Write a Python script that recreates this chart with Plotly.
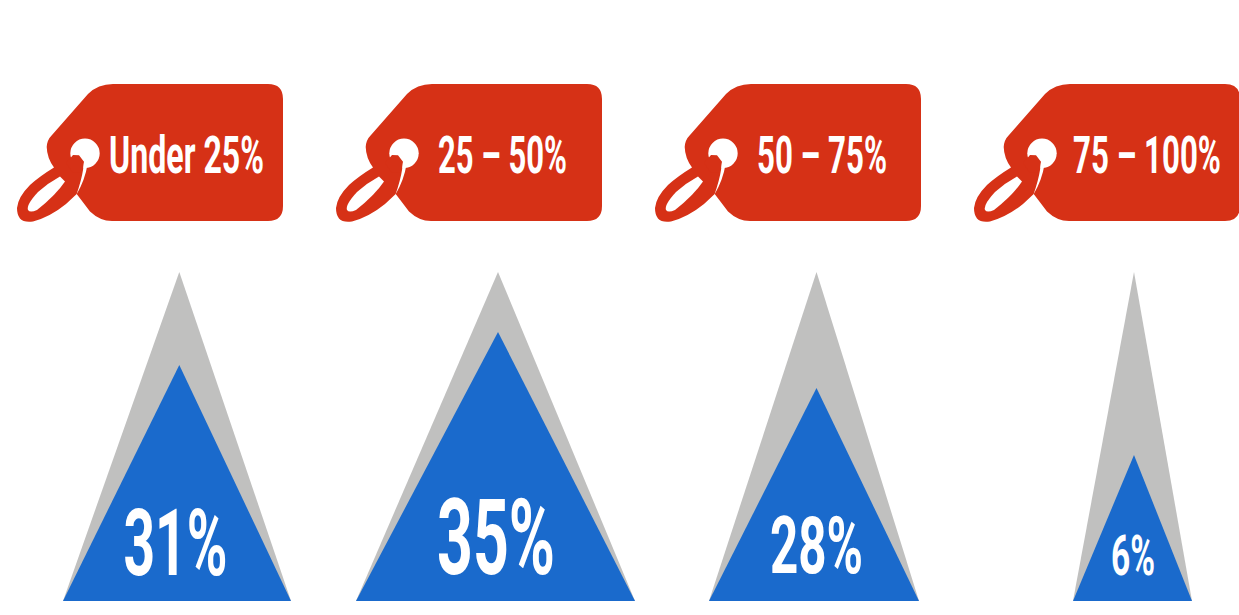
import json
import re
import numpy as np
import plotly.graph_objects as go

# Discount bands and the share of items falling in each one
bands = ["Under 25%", "25 – 50%", "50 – 75%", "75 – 100%"]
shares = [31, 35, 28, 6]

# Pictogram scale: share of items -> triangle height and base width
scale_shares = [6, 28, 31, 35]
scale_heights = [146, 213, 236, 269]
scale_widths = [119, 210, 228, 279]
FULL_HEIGHT = 329

RED, BLUE, GREY, WHITE = "#D63116", "#1A6ACC", "#C0C0BF", "#FFFFFF"
FONT = "Roboto"
W, H, BASE = 1239, 615, 601

# Layout of the four columns
tag_offsets = [0, 319, 638, 957]
tag_text_x = [186.5, 502.5, 822, 1147]
apex_x = [179.3, 498, 816.5, 1134]
base_mid = [177, 495.5, 814, 1132.5]
pct_text_x = [175.5, 496, 816.5, 1133]
pct_text_y = [49.5, 53, 48, 39.5]
pct_font = [93, 105, 80, 56]
TAG_FONT = 52
TAG_TEXT_ROW = 160

# Set widths of the condensed labels, in pixels
tag_text_widths = [155, 129, 130, 148]
pct_text_widths = [104, 118, 93, 44]

TAG_BODY = (
    "M113,84 L268,84 Q283,84 283,99 L283,206 Q283,221 268,221 L112,221 "
    "Q100,221 90,211.5 L76.7,194 L66,204 Q50,217 33,221.5 Q17,224 17,208 "
    "Q18,197 30,185 Q40,176 54,167.5 Q47,158 46.7,147 Q47,140 52,135 "
    "L88,94 Q98,84 113,84 Z"
)
TAG_HOOK = "M70,158.5 L73,155 L79,155.3 L84,161.7 L83,172 L73,173 L66,163 Z"
TAG_SEAM = "M84,161.7 L87.5,164.5 Q85,180 76.5,194.5 Q81.5,180 83,170 Z"
TAG_EYE = "M60,176.5 L65,181.5 Q56,195 37,210 Q30,213 28,210 Q26,205 38,192 Q48,183 60,176.5 Z"
HOLE_CX, HOLE_CY, HOLE_R = 85, 153.3, 14.7


def to_y(pixel_row):
    # The y axis counts upward from the triangle baseline
    return BASE - pixel_row


def placed(path, dx):
    # Shift an icon path sideways by dx and flip its rows onto the y axis
    out, is_x = [], True
    for token in re.findall(r"[A-Z]|[-\d.]+", path):
        if token.isalpha():
            out.append(token)
            is_x = True
        else:
            out.append(str(float(token) + dx) if is_x else str(to_y(float(token))))
            is_x = not is_x
    return " ".join(out)


fig = go.Figure()
heights = np.interp(shares, scale_shares, scale_heights)
widths = np.interp(shares, scale_shares, scale_widths)

for i, share in enumerate(shares):
    left, right = base_mid[i] - widths[i] / 2, base_mid[i] + widths[i] / 2
    fig.add_trace(go.Scatter(x=[left, apex_x[i], right, left], y=[0, FULL_HEIGHT, 0, 0],
                             mode="lines", fill="toself", fillcolor=GREY, line_width=0,
                             hoverinfo="skip", showlegend=False))
    fig.add_trace(go.Scatter(x=[left, apex_x[i], right, left], y=[0, heights[i], 0, 0],
                             mode="lines", fill="toself", fillcolor=BLUE, line_width=0,
                             hoverinfo="skip", showlegend=False))
    fig.add_trace(go.Scatter(x=[pct_text_x[i]], y=[pct_text_y[i]], cliponaxis=False,
                             mode="text", text=[f"{share}%"], hoverinfo="skip", showlegend=False,
                             textposition="middle center",
                             textfont=dict(family=FONT, size=pct_font[i], color=WHITE, weight="bold")))

fig.add_trace(go.Scatter(x=tag_text_x, y=[to_y(TAG_TEXT_ROW)] * 4, mode="text", text=bands, cliponaxis=False,
                         hoverinfo="skip", showlegend=False, textposition="middle center",
                         textfont=dict(family=FONT, size=TAG_FONT, color=WHITE, weight="bold")))

# Price tag icon, repeated above every column
shapes = []
for dx in tag_offsets:
    common = dict(type="path", xref="x", yref="y", line_width=0, layer="below")
    shapes.append(dict(path=placed(TAG_BODY, dx), fillcolor=RED, **common))
    shapes.append(dict(type="circle", xref="x", yref="y", line_width=0, layer="below", fillcolor=WHITE,
                       x0=HOLE_CX + dx - HOLE_R, x1=HOLE_CX + dx + HOLE_R,
                       y0=to_y(HOLE_CY + HOLE_R), y1=to_y(HOLE_CY - HOLE_R)))
    shapes.append(dict(path=placed(TAG_HOOK, dx), fillcolor=RED, **common))
    shapes.append(dict(path=placed(TAG_SEAM, dx), fillcolor=WHITE, **common))
    shapes.append(dict(path=placed(TAG_EYE, dx), fillcolor=WHITE, **common))

fig.update_layout(
    width=W, height=H, margin=dict(l=0, r=0, t=0, b=0),
    paper_bgcolor=WHITE, plot_bgcolor=WHITE, shapes=shapes,
    xaxis=dict(range=[0, W], visible=False, fixedrange=True),
    yaxis=dict(range=[BASE - H, BASE], visible=False, fixedrange=True),
)

# The labels use a tall condensed look, so scale each run of text sideways to its set width
label_widths = dict(zip(bands + [f"{s}%" for s in shares], tag_text_widths + pct_text_widths))
condense = """
var widths = %s;
document.querySelectorAll('.textpoint text').forEach(function (t) {
  var cx = parseFloat(t.getAttribute('x'));
  var sx = widths[t.textContent] / t.getComputedTextLength();
  t.setAttribute('transform', 'translate(' + cx + ' 0) scale(' + sx + ' 1) translate(' + (-cx) + ' 0)');
});
""" % json.dumps(label_widths)
fig.write_html("out.html", config={"displayModeBar": False}, post_script=condense)
